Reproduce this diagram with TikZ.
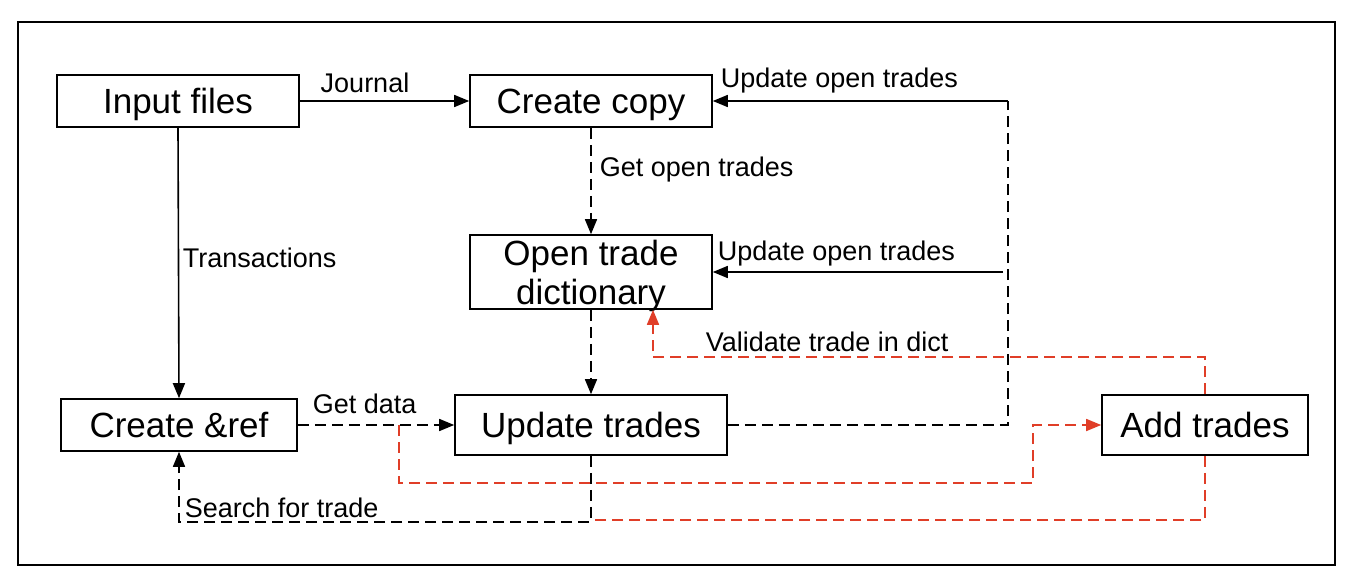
\documentclass[tikz,border=0pt]{standalone}
\usepackage{fontspec}
\setmainfont{Liberation Sans}
\usetikzlibrary{arrows.meta}
\definecolor{flowred}{RGB}{224,62,40}

\begin{document}
\begin{tikzpicture}
  [x=1pt,y=-1pt,line width=1.6pt,
   box/.style={draw,rectangle,minimum height=52pt,inner sep=0pt,align=center,text depth=0pt,font=\fontsize{35}{39}\selectfont},
   lbl/.style={anchor=west,inner sep=0pt,text depth=0pt,font=\fontsize{27}{31}\selectfont},
   flow/.style={-{Triangle[length=15pt,width=12pt]}},
   dsh/.style={dash pattern=on 11pt off 6pt},
   dashflow/.style={flow,dsh},
   redflow/.style={dashflow,flowred},
   reddsh/.style={dsh,flowred}]
  \fill [white] (0,0) rectangle (1347,575);
  \useasboundingbox (0,0) rectangle (1347,575);
  \draw (18,22) rectangle (1335,565);

  \node [box,minimum width=242pt] (inp) at (178,101) {Input files};
  \node [box,minimum width=242pt] (cc) at (591,101) {Create copy};
  \node [box,minimum width=242pt,minimum height=74pt] (otd) at (591,272) {Open trade\\dictionary};
  \node [box,minimum width=236pt] (cr) at (179,425) {Create \&ref};
  \node [box,minimum width=272pt,minimum height=60pt] (ut) at (591,425) {Update trades};
  \node [box,minimum width=206pt,minimum height=60pt] (at) at (1205,425) {Add trades};

  \coordinate (j1) at (1008,101);
  \coordinate (j2) at (1003,272);
  \coordinate (r1) at (399,425);
  \coordinate (r2) at (1033,483);
  \coordinate (r3) at (653,357);
  \coordinate (r4) at (591,520);
  \coordinate (s1) at (591,522);

  \foreach \from/\to in {inp.east/cc.west,inp.south/cr.north,j1/cc.east,j2/otd.east}
    \draw [flow] (\from) -- (\to);
  \foreach \from/\to in {cc.south/otd.north,otd.south/ut.north,cr.east/ut.west}
    \draw [dashflow] (\from) -- (\to);

  \draw [dsh] (ut.east) -| (j1);
  \draw [dashflow] (ut.south) -- (s1) -| (cr.south);
  \draw [redflow] (r1) |- (r2) |- (at.west);
  \draw [redflow] (at.north) |- (r3) -- (r3 |- otd.south);
  \draw [reddsh] (at.south) |- (r4);

  \node [lbl,anchor=center] (l1) at (365,83) {Journal};
  \node [lbl] (l2) at (182,258) {Transactions};
  \node [lbl] (l3) at (599,167) {Get open trades};
  \node [lbl] (l4) at (312,404) {Get data};
  \node [lbl] (l5) at (720,78) {Update open trades};
  \node [lbl] (l6) at (717,251) {Update open trades};
  \node [lbl] (l7) at (705,342) {Validate trade in dict};
  \node [lbl] (l8) at (184,508) {Search for trade};

\end{tikzpicture}
\end{document}
